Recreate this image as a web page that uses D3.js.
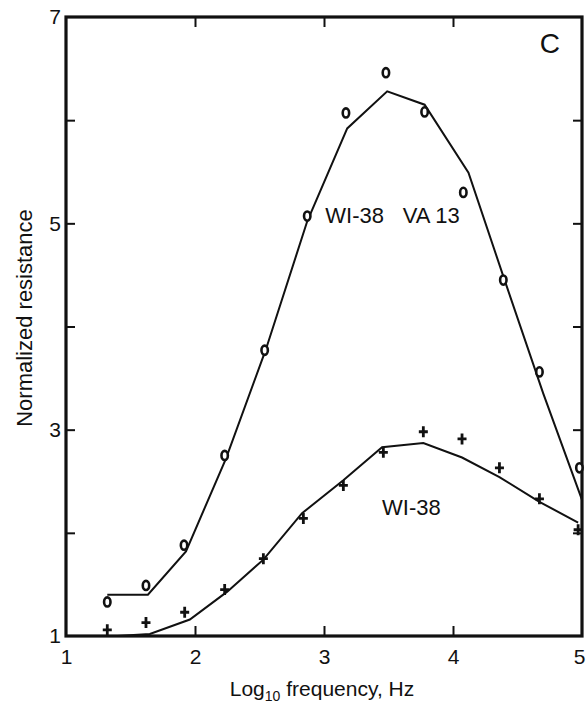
<!DOCTYPE html>
<html>
<head>
<meta charset="utf-8">
<script src="https://cdn.jsdelivr.net/npm/d3@7"></script>
<style>
  body { margin: 0; background: #fff; }
  text { font-family: "Liberation Sans", Arial, Helvetica, sans-serif; fill: #111; }
</style>
</head>
<body>
<svg id="chart" width="586" height="707"></svg>
<script>
// VA 13 transformed cells: measured points and fitted curve
const va13_x = [1.32, 1.62, 1.915, 2.23, 2.54, 2.87, 3.17, 3.48, 3.78, 4.08, 4.39, 4.67, 4.98]
const va13_y = [1.33, 1.49, 1.88, 2.75, 3.77, 5.07, 6.07, 6.46, 6.08, 5.30, 4.45, 3.56, 2.63]
const va13_fit_x = [1.32, 1.635, 1.93, 2.24, 2.55, 2.87, 3.18, 3.49, 3.78, 4.12, 4.40, 4.70, 5.0]
const va13_fit_y = [1.40, 1.40, 1.82, 2.72, 3.78, 5.02, 5.92, 6.28, 6.15, 5.49, 4.45, 3.35, 2.32]

// WI-38 normal cells
const wi38_x = [1.32, 1.62, 1.92, 2.23, 2.53, 2.84, 3.15, 3.46, 3.77, 4.07, 4.36, 4.67, 4.97]
const wi38_y = [1.06, 1.13, 1.23, 1.45, 1.75, 2.14, 2.46, 2.78, 2.98, 2.91, 2.63, 2.33, 2.03]
const wi38_fit_x = [1.40, 1.65, 1.96, 2.25, 2.53, 2.83, 3.15, 3.45, 3.77, 4.07, 4.36, 4.67, 4.97]
const wi38_fit_y = [1.00, 1.02, 1.16, 1.43, 1.74, 2.19, 2.51, 2.83, 2.87, 2.73, 2.54, 2.30, 2.10]

const x_ticks = [1, 2, 3, 4, 5]
const y_ticks = [1, 2, 3, 4, 5, 6, 7]
const y_labels = [1, 3, 5, 7]

const svg = d3.select("#chart")
const x = d3.scaleLinear().domain([1, 5]).range([66, 582])
const y = d3.scaleLinear().domain([1, 7]).range([636, 17])

const zip = (xs, ys) => xs.map((v, i) => [v, ys[i]])
const line = d3.line().x(d => x(d[0])).y(d => y(d[1]))

// frame
svg.append("rect")
  .attr("x", x(1)).attr("y", y(7))
  .attr("width", x(5) - x(1)).attr("height", y(1) - y(7))
  .attr("fill", "none").attr("stroke", "#111").attr("stroke-width", 3.2)

// axes (ticks point inward)
const inner = x_ticks.filter(d => d > 1 && d < 5)
const bottom = svg.append("g")
  .attr("transform", `translate(0,${y(1)})`)
  .call(d3.axisBottom(x).tickValues(x_ticks).tickSize(-10).tickPadding(13).tickFormat(d3.format("d")))
bottom.selectAll(".tick line").filter(d => d == 1 || d == 5).remove()
// last label sits against the right edge of the page
bottom.selectAll(".tick text").filter(d => d == 5)
  .attr("text-anchor", "end").attr("x", 3)

svg.append("g")
  .attr("transform", `translate(0,${y(7)})`)
  .call(d3.axisTop(x).tickValues(inner).tickSize(-10).tickFormat(""))

const left = svg.append("g")
  .attr("transform", `translate(${x(1)},0)`)
  .call(d3.axisLeft(y).tickValues(y_ticks).tickSize(-9).tickPadding(5)
    .tickFormat(d => y_labels.includes(d) ? d : ""))
left.selectAll(".tick line").filter(d => d == 1 || d == 7).remove()

svg.append("g")
  .attr("transform", `translate(${x(5)},0)`)
  .call(d3.axisRight(y).tickValues(y_ticks.filter(d => d > 1 && d < 7)).tickSize(-9).tickFormat(""))

svg.selectAll(".domain").remove()
svg.selectAll(".tick line").attr("stroke", "#111").attr("stroke-width", 2)
svg.selectAll(".tick text")
  .style("font-family", "'Liberation Sans', Arial, sans-serif")
  .attr("font-size", 21).attr("fill", "#111")

// fitted curves
svg.append("path").datum(zip(va13_fit_x, va13_fit_y))
  .attr("d", line).attr("fill", "none").attr("stroke", "#111").attr("stroke-width", 2)
svg.append("path").datum(zip(wi38_fit_x, wi38_fit_y))
  .attr("d", line).attr("fill", "none").attr("stroke", "#111").attr("stroke-width", 2)

// VA 13 markers: small "o"
svg.append("g").selectAll("ellipse")
  .data(zip(va13_x, va13_y)).enter()
  .append("ellipse")
  .attr("cx", d => x(d[0])).attr("cy", d => y(d[1]))
  .attr("rx", 3.2).attr("ry", 4.6)
  .attr("fill", "#fff").attr("stroke", "#111").attr("stroke-width", 2.6)

// WI-38 markers: "+"
svg.append("g").selectAll("path")
  .data(zip(wi38_x, wi38_y)).enter()
  .append("path")
  .attr("transform", d => `translate(${x(d[0])},${y(d[1])})`)
  .attr("d", "M-4.5,0H4.5M0,-5.5V5.5")
  .attr("stroke", "#111").attr("stroke-width", 2.8)

// annotations
svg.append("text").attr("x", x(3.01)).attr("y", y(5.0)).attr("font-size", 22).text("WI-38")
svg.append("text").attr("x", x(3.61)).attr("y", y(5.0)).attr("font-size", 22).text("VA 13")
svg.append("text").attr("x", x(3.45)).attr("y", y(2.17)).attr("font-size", 22).text("WI-38")
svg.append("text").attr("x", x(4.75)).attr("y", y(6.65)).attr("font-size", 28)
  .attr("text-anchor", "middle").text("C")

// axis titles
const xt = svg.append("text").attr("x", 322).attr("y", 696)
  .attr("font-size", 21).attr("text-anchor", "middle")
xt.append("tspan").text("Log")
xt.append("tspan").attr("font-size", 14).attr("dy", 5).text("10")
xt.append("tspan").attr("dy", -5).text(" frequency, Hz")

svg.append("text")
  .attr("transform", "translate(32,318) rotate(-90)")
  .attr("font-size", 22).attr("text-anchor", "middle")
  .text("Normalized resistance")
</script>
</body>
</html>
